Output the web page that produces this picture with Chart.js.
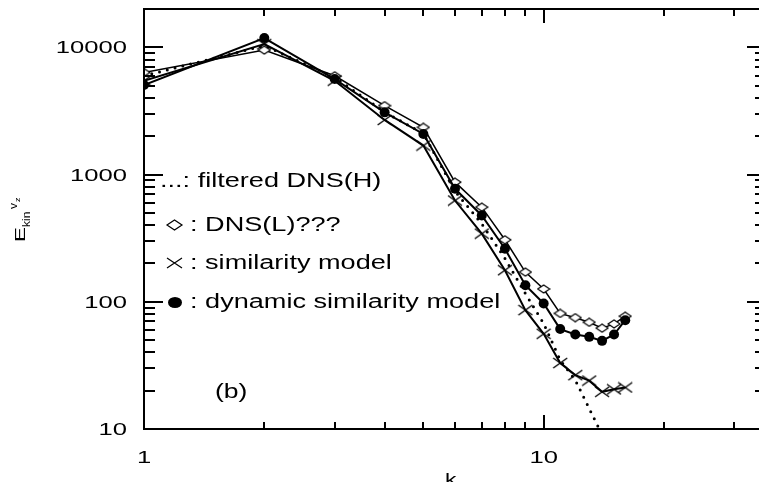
<!DOCTYPE html>
<html>
<head>
<meta charset="utf-8">
<script src="https://cdn.jsdelivr.net/npm/chart.js@4.4.1/dist/chart.umd.min.js"></script>
<style>
  html, body { margin: 0; padding: 0; background: #fff; overflow: hidden; }
  canvas { display: block; }
</style>
</head>
<body>
<canvas id="spectrum" width="775" height="482"></canvas>
<script>
// Wavenumbers k
const waveNumbers = [1, 2, 3, 4, 5, 6, 7, 8, 9, 10, 11, 12, 13, 14, 15, 16];

// Spectra
const filteredDNS = [5975, 10300, 5800, 3100, 2100, 740, 410, 219, 116, 67.5, 34.8, 24.2, 14.5, 9.0];
const dnsLow = [6340, 9510, 5975, 3477, 2350, 871, 554, 307, 171, 126, 81, 75, 69, 62, 67, 77];
const similarity = [5460, 10590, 5460, 2686, 1689, 625, 343, 177, 86, 56, 33, 26.5, 24, 19.6, 20.5, 21.2];
const dynamicSimilarity = [5052, 11810, 5630, 3080, 2085, 772, 477, 261, 135, 97, 61, 55.3, 53, 49.3, 55.3, 71.6];

// Axes
const xRange = [1, 36];
const yRange = [10, 20000];
const xMajorTicks = [1, 10];
const xMinorTicks = [2, 3, 4, 5, 6, 7, 8, 9, 20, 30];
const yMajorTicks = [10, 100, 1000, 10000];
const yMinorSteps = [2, 3, 4, 5, 6, 7, 8, 9];

// Legend texts drawn inside the plot
const legendLabels = ['...: filtered DNS(H)', ': DNS(L)???', ': similarity model', ': dynamic similarity model'];
const panelLabel = '(b)';

const FONT = '"Liberation Sans", Arial, Helvetica, sans-serif';

// small canvases used as point markers
function makeDiamond(w, h) {
  const c = document.createElement('canvas');
  c.width = w + 2; c.height = h + 2;
  const g = c.getContext('2d');
  g.beginPath();
  g.moveTo(1, 1 + h / 2);
  g.lineTo(1 + w / 2, 1);
  g.lineTo(1 + w, 1 + h / 2);
  g.lineTo(1 + w / 2, 1 + h);
  g.closePath();
  g.fillStyle = '#fff';
  g.fill();
  g.lineWidth = 1.2;
  g.strokeStyle = '#000';
  g.stroke();
  return c;
}

function makeCross(w, h) {
  const c = document.createElement('canvas');
  c.width = w + 2; c.height = h + 2;
  const g = c.getContext('2d');
  g.beginPath();
  g.moveTo(1, 1); g.lineTo(1 + w, 1 + h);
  g.moveTo(1, 1 + h); g.lineTo(1 + w, 1);
  g.lineWidth = 1.4;
  g.strokeStyle = '#000';
  g.stroke();
  return c;
}

const diamondMark = makeDiamond(12, 8);
const crossMark = makeCross(14, 10);

function toPoints(values) {
  return values.map((v, i) => ({ x: waveNumbers[i], y: v }));
}

// draw text stretched wide like the original figure font
function wideText(ctx, text, x, y, size, sx, align) {
  ctx.save();
  ctx.font = size + 'px ' + FONT;
  ctx.fillStyle = '#000';
  ctx.textBaseline = 'alphabetic';
  ctx.textAlign = align || 'left';
  ctx.translate(x, y);
  ctx.scale(sx, 1);
  ctx.fillText(text, 0, 0);
  ctx.restore();
}

// Frame, inward ticks, labels and in-plot legend
const framePlugin = {
  id: 'frame',
  afterDraw(chart) {
    const ctx = chart.ctx;
    const area = chart.chartArea;
    const xs = chart.scales.x;
    const ys = chart.scales.y;

    ctx.save();
    ctx.strokeStyle = '#000';
    ctx.lineWidth = 2;
    ctx.strokeRect(area.left, area.top, area.right - area.left, area.bottom - area.top);

    ctx.beginPath();
    // x ticks, bottom and top
    xMajorTicks.concat(xMinorTicks).forEach(v => {
      const len = xMajorTicks.includes(v) ? 14 : 7;
      const px = Math.round(xs.getPixelForValue(v));
      ctx.moveTo(px, area.bottom); ctx.lineTo(px, area.bottom - len);
      ctx.moveTo(px, area.top); ctx.lineTo(px, area.top + len);
    });
    // y ticks, left and right
    yMajorTicks.forEach(d => {
      const ticks = [{ v: d, len: 19 }].concat(yMinorSteps.map(m => ({ v: m * d, len: 11 })));
      ticks.forEach(t => {
        if (t.v >= yRange[1]) return;
        const py = Math.round(ys.getPixelForValue(t.v));
        ctx.moveTo(area.left, py); ctx.lineTo(area.left + t.len, py);
        ctx.moveTo(area.right, py); ctx.lineTo(area.right - t.len, py);
      });
    });
    ctx.stroke();
    ctx.restore();

    // tick labels
    yMajorTicks.forEach(v => {
      wideText(ctx, String(v), 127, ys.getPixelForValue(v) + 6, 16, 1.6, 'right');
    });
    xMajorTicks.forEach(v => {
      wideText(ctx, String(v), xs.getPixelForValue(v), 463, 16, 1.6, 'center');
    });

    // x title (cut by the bottom edge)
    wideText(ctx, 'k', 445, 485, 17, 1.35, 'left');

    // y title E_kin^{v_z}, rotated
    ctx.save();
    ctx.translate(25, 242);
    ctx.rotate(-Math.PI / 2);
    wideText(ctx, 'E', 0, 0, 14, 1.6, 'left');
    wideText(ctx, 'kin', 15, 5, 10, 1.2, 'left');
    wideText(ctx, 'v', 33, -8, 10, 1.2, 'left');
    wideText(ctx, 'z', 40, -5, 7.5, 1.2, 'left');
    ctx.restore();

    // legend lines
    wideText(ctx, legendLabels[0], 160, 187, 19.5, 1.39, 'left');
    wideText(ctx, legendLabels[1], 190, 231, 19.5, 1.39, 'left');
    wideText(ctx, legendLabels[2], 190, 269, 19.5, 1.39, 'left');
    wideText(ctx, legendLabels[3], 190, 308, 19.5, 1.39, 'left');

    ctx.save();
    ctx.strokeStyle = '#000';
    ctx.lineWidth = 1.2;
    ctx.beginPath();
    ctx.moveTo(167, 225); ctx.lineTo(174.5, 220); ctx.lineTo(182, 225); ctx.lineTo(174.5, 230);
    ctx.closePath();
    ctx.stroke();
    ctx.beginPath();
    ctx.moveTo(167, 258); ctx.lineTo(182, 268);
    ctx.moveTo(167, 268); ctx.lineTo(182, 258);
    ctx.stroke();
    ctx.beginPath();
    ctx.ellipse(175, 302.5, 7, 5.5, 0, 0, Math.PI * 2);
    ctx.fillStyle = '#000';
    ctx.fill();
    ctx.restore();

    wideText(ctx, panelLabel, 215, 398, 19.5, 1.36, 'left');
  }
};

new Chart(document.getElementById('spectrum'), {
  type: 'line',
  data: {
    datasets: [
      {
        label: 'dynamic similarity model',
        data: toPoints(dynamicSimilarity),
        borderColor: '#000',
        borderWidth: 2,
        pointStyle: 'circle',
        pointRadius: 5,
        pointBackgroundColor: '#000',
        pointBorderColor: '#000',
        pointBorderWidth: 0
      },
      {
        label: 'DNS(L)???',
        data: toPoints(dnsLow),
        borderColor: '#000',
        borderWidth: 1.5,
        pointStyle: diamondMark,
        pointRadius: 6
      },
      {
        label: 'similarity model',
        data: toPoints(similarity),
        borderColor: '#000',
        borderWidth: 2,
        pointStyle: crossMark,
        pointRadius: 7
      },
      {
        label: 'filtered DNS(H)',
        data: toPoints(filteredDNS),
        borderColor: '#000',
        borderWidth: 3,
        borderDash: [0, 8],
        borderCapStyle: 'round',
        pointRadius: 0
      }
    ]
  },
  options: {
    responsive: false,
    animation: false,
    layout: { padding: { left: 144, right: 7, top: 8, bottom: 53 } },
    elements: { line: { tension: 0 } },
    scales: {
      x: { type: 'logarithmic', min: xRange[0], max: xRange[1], display: false },
      y: { type: 'logarithmic', min: yRange[0], max: yRange[1], display: false }
    },
    plugins: {
      legend: { display: false },
      tooltip: { enabled: false }
    }
  },
  plugins: [framePlugin]
});
</script>
</body>
</html>
